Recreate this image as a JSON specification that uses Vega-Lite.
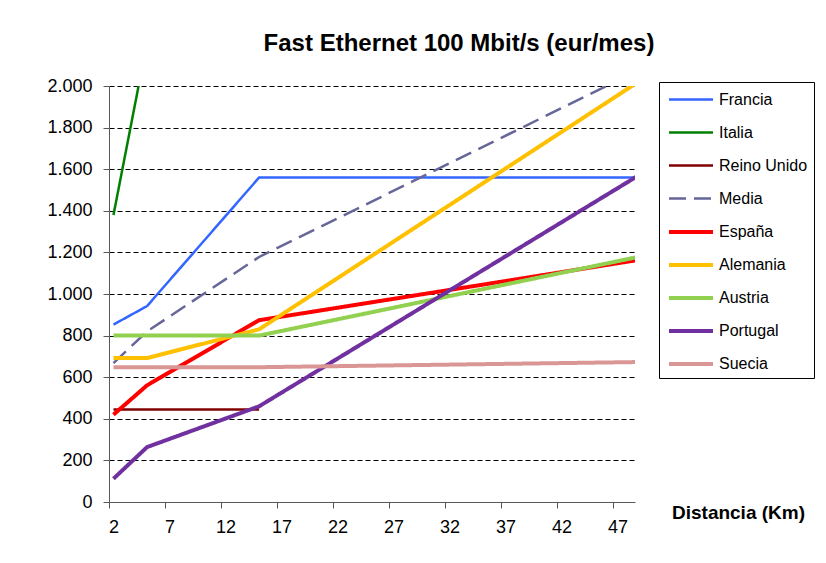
{
  "$schema": "https://vega.github.io/schema/vega-lite/v6.json",
  "autosize": "none",
  "padding": {"left": 109, "top": 86, "right": 191, "bottom": 61},
  "width": 526,
  "height": 416,
  "background": "#ffffff",
  "title": {
    "text": "Fast Ethernet 100 Mbit/s (eur/mes)",
    "font": "Liberation Sans",
    "fontSize": 24,
    "fontWeight": "bold",
    "color": "#000000",
    "anchor": "middle",
    "frame": "group",
    "dx": 87,
    "offset": 21
  },
  "config": {
    "view": {"stroke": null},
    "font": "Liberation Sans",
    "legend": {
      "orient": "none",
      "legendX": 550,
      "legendY": -4,
      "strokeColor": "#000000",
      "padding": 6,
      "labelFont": "Liberation Sans",
      "labelFontSize": 16,
      "labelColor": "#000000",
      "symbolType": "M-2.2,0H2.2",
      "symbolSize": 400,
      "symbolOffset": 14,
      "rowPadding": 13,
      "labelOffset": 16
    }
  },
  "data": {
    "values": [
      {"s": "Francia", "x": 2, "v": 853},
      {"s": "Francia", "x": 5, "v": 942},
      {"s": "Francia", "x": 15, "v": 1560},
      {"s": "Francia", "x": 49, "v": 1560},
      {"s": "Italia", "x": 2, "v": 1380},
      {"s": "Italia", "x": 5, "v": 2210},
      {"s": "Reino Unido", "x": 2, "v": 445},
      {"s": "Reino Unido", "x": 15, "v": 445},
      {"s": "Media", "x": 2, "v": 668},
      {"s": "Media", "x": 5, "v": 820},
      {"s": "Media", "x": 15, "v": 1178},
      {"s": "Media", "x": 49, "v": 2079},
      {"s": "España", "x": 2, "v": 420},
      {"s": "España", "x": 5, "v": 561},
      {"s": "España", "x": 15, "v": 874},
      {"s": "España", "x": 49, "v": 1165},
      {"s": "Alemania", "x": 2, "v": 692},
      {"s": "Alemania", "x": 5, "v": 692},
      {"s": "Alemania", "x": 15, "v": 830},
      {"s": "Alemania", "x": 49, "v": 2025},
      {"s": "Austria", "x": 2, "v": 800},
      {"s": "Austria", "x": 5, "v": 800},
      {"s": "Austria", "x": 15, "v": 800},
      {"s": "Austria", "x": 49, "v": 1180},
      {"s": "Portugal", "x": 2, "v": 112},
      {"s": "Portugal", "x": 5, "v": 264},
      {"s": "Portugal", "x": 15, "v": 460},
      {"s": "Portugal", "x": 49, "v": 1574},
      {"s": "Suecia", "x": 2, "v": 648},
      {"s": "Suecia", "x": 15, "v": 648},
      {"s": "Suecia", "x": 49, "v": 673}
    ]
  },
  "mark": {"type": "line", "clip": true},
  "encoding": {
    "x": {
      "field": "x",
      "type": "quantitative",
      "scale": {"domain": [1.6, 48.56], "nice": false, "zero": false},
      "axis": {
        "values": [2, 7, 12, 17, 22, 27, 32, 37, 42, 47],
        "grid": false,
        "tickOffset": -4.5,
        "labelOffset": 4.5,
        "domainColor": "#595959",
        "tickColor": "#595959",
        "tickSize": 6,
        "labelPadding": 10,
        "labelFont": "Liberation Sans",
        "labelFontSize": 18,
        "labelColor": "#000000",
        "labelFlush": false,
        "title": "Distancia (Km)",
        "titleFont": "Liberation Sans",
        "titleFontSize": 19,
        "titleFontWeight": "bold",
        "titleColor": "#000000",
        "titleX": 629,
        "titleY": 10,
        "titleAlign": "center",
        "titleBaseline": "middle"
      }
    },
    "y": {
      "field": "v",
      "type": "quantitative",
      "scale": {"domain": [0, 2000], "nice": false},
      "axis": {
        "values": [0, 200, 400, 600, 800, 1000, 1200, 1400, 1600, 1800, 2000],
        "labelExpr": "replace(format(datum.value, ','), ',', '.')",
        "grid": true,
        "gridColor": "#000000",
        "gridDash": [5, 3],
        "gridWidth": 1,
        "domainColor": "#595959",
        "tickColor": "#595959",
        "tickSize": 6,
        "labelPadding": 11,
        "labelFont": "Liberation Sans",
        "labelFontSize": 18,
        "labelColor": "#000000",
        "title": null
      }
    },
    "color": {
      "field": "s",
      "type": "nominal",
      "scale": {
        "domain": ["Francia", "Italia", "Reino Unido", "Media", "España", "Alemania", "Austria", "Portugal", "Suecia"],
        "range": ["#3366FF", "#008000", "#800000", "#666699", "#FF0000", "#FFC000", "#92D050", "#7030A0", "#DA9694"]
      },
      "legend": {"title": null}
    },
    "strokeDash": {
      "field": "s",
      "type": "nominal",
      "scale": {
        "domain": ["Francia", "Italia", "Reino Unido", "Media", "España", "Alemania", "Austria", "Portugal", "Suecia"],
        "range": [[1, 0], [1, 0], [1, 0], [17, 8], [1, 0], [1, 0], [1, 0], [1, 0], [1, 0]]
      },
      "legend": {"title": null}
    },
    "strokeWidth": {
      "field": "s",
      "type": "ordinal",
      "scale": {
        "type": "ordinal",
        "domain": ["Francia", "Italia", "Reino Unido", "Media", "España", "Alemania", "Austria", "Portugal", "Suecia"],
        "range": [2.5, 2.5, 2.5, 2.5, 4, 4, 4, 4, 4]
      },
      "legend": {"title": null}
    }
  }
}
